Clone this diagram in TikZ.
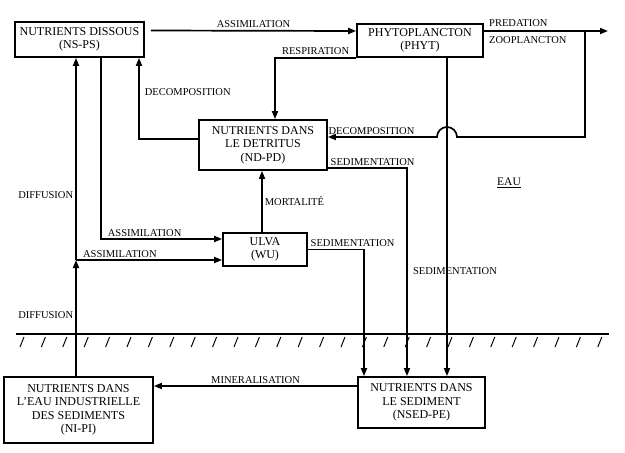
\documentclass[tikz,border=0pt]{standalone}
\usepackage{fontspec}
\setmainfont{Liberation Serif}
\usetikzlibrary{arrows.meta,calc}

\begin{document}
\begin{tikzpicture}[
  x=1pt, y=-1pt,
  font=\fontsize{12}{13.5}\selectfont,
  box/.style={draw, line width=1.7pt, align=center, inner sep=0pt},
  lbl/.style={font=\fontsize{10.5}{12}\selectfont, inner sep=2pt},
  arrow/.style={-{Triangle[length=8pt,width=6pt]}, line width=1.7pt},
  link/.style={line width=1.7pt}
]
\useasboundingbox (0,0) rectangle (625,453);

% compartments
\node[box, minimum width=129pt, minimum height=35pt] (ns) at (79.5,39.5) {NUTRIENTS DISSOUS\\(NS-PS)};
\node[box, minimum width=126pt, minimum height=33pt] (phyt) at (420,40.5) {PHYTOPLANCTON\\(PHYT)};
\node[box, minimum width=128pt, minimum height=50pt] (nd) at (263,145) {NUTRIENTS DANS\\LE DETRITUS\\(ND-PD)};
\node[box, minimum width=84pt, minimum height=33pt] (ulva) at (265,249.5) {ULVA\\(WU)};
\node[box, minimum width=149pt, minimum height=66pt] (ni) at (78.5,410) {NUTRIENTS DANS\\L'EAU INDUSTRIELLE\\DES SEDIMENTS\\(NI-PI)};
\node[box, minimum width=127pt, minimum height=51pt] (nsed) at (421.5,402.5) {NUTRIENTS DANS\\LE SEDIMENT\\(NSED-PE)};
\node[font=\fontsize{11.5}{13}\selectfont] (eau) at (509,183) {\underline{EAU}};

% helper points
\coordinate (out) at (608,31);
\coordinate (turn) at (585,31);
\coordinate (hopR) at (457,137);
\coordinate (sedp) at ([xshift=27pt]phyt.south);
\coordinate (jn) at (76,260);
\coordinate (um) at ([xshift=-3pt]ulva.north);

% water column fluxes
\draw[arrow] ([xshift=6pt,yshift=9pt]ns.east) -- node[lbl, above]{ASSIMILATION} ([yshift=9.5pt]phyt.west);
\draw[arrow] ([yshift=9.5pt]phyt.east) -- node[lbl, above right, pos=0.02, yshift=2pt]{PREDATION} node[lbl, below right, pos=0.02, yshift=-3pt]{ZOOPLANCTON} (out);
\draw[arrow] (turn) |- (hopR) arc[start angle=0, end angle=180, radius=10pt] -- node[lbl, above, pos=0.6]{DECOMPOSITION} ([yshift=8pt]nd.east);
\draw[arrow] (phyt.south west) -| node[lbl, above, pos=0.25]{RESPIRATION} ([xshift=12pt]nd.north);
\draw[arrow] (sedp) -- node[lbl, pos=0.67, xshift=8pt]{SEDIMENTATION} (sedp |- nsed.north);
\draw[arrow] ([yshift=6pt]nd.west) -| node[lbl, right, pos=0.79, xshift=3pt]{DECOMPOSITION} ([xshift=59.5pt]ns.south);
\draw[arrow] ([xshift=21.5pt]ns.south) |- node[lbl, above, pos=0.68]{ASSIMILATION} ([yshift=10.5pt]ulva.west);
\draw[arrow] (um) -- node[lbl, right]{MORTALITÉ} (um |- nd.south);

% exchanges with the sediment
\draw[arrow] (ni.north -| jn) -- node[lbl, left, pos=0.53]{DIFFUSION} (jn);
\draw[arrow] (jn) -- node[lbl, left, pos=0.32]{DIFFUSION} (jn |- ns.south);
\draw[arrow] (jn) -- node[lbl, above, pos=0.3]{ASSIMILATION} (jn -| ulva.west);
\draw[arrow] (ulva.east) -| node[lbl, above right, pos=0]{SEDIMENTATION} ([xshift=-57.5pt]nsed.north);
\draw[arrow] ([yshift=-23pt]nd.east) -| node[lbl, above right, pos=0]{SEDIMENTATION} ([xshift=-14.5pt]nsed.north);
\draw[arrow] ([yshift=16.5pt]nsed.west) -- node[lbl, above]{MINERALISATION} ([yshift=24pt]ni.east);

% sediment surface
\draw[link] (16,334) -- (609,334);
\foreach \x in {0,...,27}
  \draw[line width=1pt] ({20+21.4*\x},347) -- ({24+21.4*\x},337);
\end{tikzpicture}
\end{document}
